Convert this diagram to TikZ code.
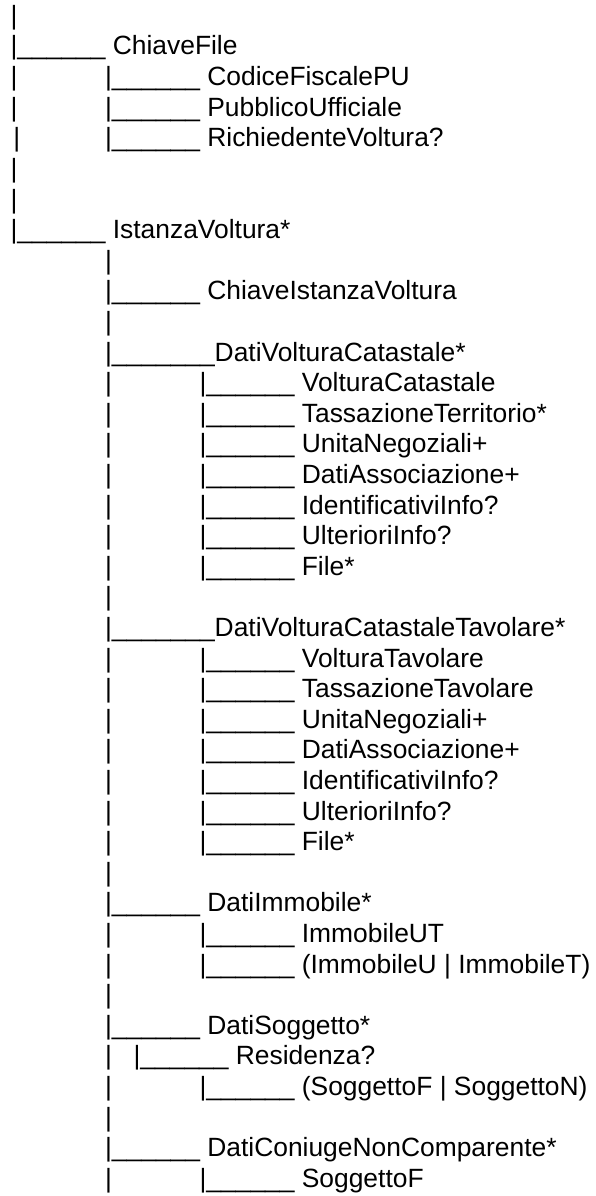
\documentclass[tikz,border=0pt]{standalone}
\usepackage{fontspec}
\setmainfont{Liberation Sans}
\begin{document}
\begin{tikzpicture}[x=1pt,y=-1pt,
  t/.style={anchor=base west,inner sep=0pt,outer sep=0pt,font=\fontsize{26.4}{30}\selectfont}]
\useasboundingbox (0,0) rectangle (596,1196);
\fill[white] (0,0) rectangle (596,1196);
% column x positions: A=10.6, B=105.1, C=199.6, D=133.6
\node[t] (r1a) at (10.6,24.4) {|};
\node[t] (r2a) at (10.6,55) {|\_\_\_\_\_\_ ChiaveFile};
\node[t] (r3a) at (10.6,85.6) {|};
\node[t] (r3b) at (105.1,85.6) {|\_\_\_\_\_\_ CodiceFiscalePU};
\node[t] (r4a) at (10.6,116.2) {|};
\node[t] (r4b) at (105.1,116.2) {|\_\_\_\_\_\_ PubblicoUfficiale};
\node[t] (r5a) at (13.3,146.8) {|};
\node[t] (r5b) at (105.1,146.8) {|\_\_\_\_\_\_ RichiedenteVoltura?};
\node[t] (r6a) at (10.6,177.4) {|};
\node[t] (r7a) at (10.6,208) {|};
\node[t] (r8a) at (10.6,238.6) {|\_\_\_\_\_\_ IstanzaVoltura*};
\node[t] (r9b) at (105.1,269.2) {|};
\node[t] (r10b) at (105.1,299.8) {|\_\_\_\_\_\_ ChiaveIstanzaVoltura};
\node[t] (r11b) at (105.1,330.4) {|};
\node[t] (r12b) at (105.1,361) {|\_\_\_\_\_\_\_DatiVolturaCatastale*};
\node[t] (r13b) at (105.1,391.6) {|};
\node[t] (r13c) at (199.6,391.6) {|\_\_\_\_\_\_ VolturaCatastale};
\node[t] (r14b) at (105.1,422.2) {|};
\node[t] (r14c) at (199.6,422.2) {|\_\_\_\_\_\_ TassazioneTerritorio*};
\node[t] (r15b) at (105.1,452.8) {|};
\node[t] (r15c) at (199.6,452.8) {|\_\_\_\_\_\_ UnitaNegoziali+};
\node[t] (r16b) at (105.1,483.4) {|};
\node[t] (r16c) at (199.6,483.4) {|\_\_\_\_\_\_ DatiAssociazione+};
\node[t] (r17b) at (105.1,514) {|};
\node[t] (r17c) at (199.6,514) {|\_\_\_\_\_\_ IdentificativiInfo?};
\node[t] (r18b) at (105.1,544.6) {|};
\node[t] (r18c) at (199.6,544.6) {|\_\_\_\_\_\_ UlterioriInfo?};
\node[t] (r19b) at (105.1,575.2) {|};
\node[t] (r19c) at (199.6,575.2) {|\_\_\_\_\_\_ File*};
\node[t] (r20b) at (105.1,605.8) {|};
\node[t] (r21b) at (105.1,636.4) {|\_\_\_\_\_\_\_DatiVolturaCatastaleTavolare*};
\node[t] (r22b) at (105.1,667) {|};
\node[t] (r22c) at (199.6,667) {|\_\_\_\_\_\_ VolturaTavolare};
\node[t] (r23b) at (105.1,697.6) {|};
\node[t] (r23c) at (199.6,697.6) {|\_\_\_\_\_\_ TassazioneTavolare};
\node[t] (r24b) at (105.1,728.2) {|};
\node[t] (r24c) at (199.6,728.2) {|\_\_\_\_\_\_ UnitaNegoziali+};
\node[t] (r25b) at (105.1,758.8) {|};
\node[t] (r25c) at (199.6,758.8) {|\_\_\_\_\_\_ DatiAssociazione+};
\node[t] (r26b) at (105.1,789.4) {|};
\node[t] (r26c) at (199.6,789.4) {|\_\_\_\_\_\_ IdentificativiInfo?};
\node[t] (r27b) at (105.1,820) {|};
\node[t] (r27c) at (199.6,820) {|\_\_\_\_\_\_ UlterioriInfo?};
\node[t] (r28b) at (105.1,850.6) {|};
\node[t] (r28c) at (199.6,850.6) {|\_\_\_\_\_\_ File*};
\node[t] (r29b) at (105.1,881.2) {|};
\node[t] (r30b) at (105.1,911.8) {|\_\_\_\_\_\_ DatiImmobile*};
\node[t] (r31b) at (105.1,942.4) {|};
\node[t] (r31c) at (199.6,942.4) {|\_\_\_\_\_\_ ImmobileUT};
\node[t] (r32b) at (105.1,973) {|};
\node[t] (r32c) at (199.6,973) {|\_\_\_\_\_\_ (ImmobileU | ImmobileT)};
\node[t] (r33b) at (105.1,1003.6) {|};
\node[t] (r34b) at (105.1,1034.2) {|\_\_\_\_\_\_ DatiSoggetto*};
\node[t] (r35b) at (105.1,1064.8) {|};
\node[t] (r35d) at (133.6,1064.8) {|\_\_\_\_\_\_ Residenza?};
\node[t] (r36b) at (105.1,1095.4) {|};
\node[t] (r36c) at (199.6,1095.4) {|\_\_\_\_\_\_ (SoggettoF | SoggettoN)};
\node[t] (r37b) at (105.1,1126) {|};
\node[t] (r38b) at (105.1,1156.6) {|\_\_\_\_\_\_ DatiConiugeNonComparente*};
\node[t] (r39b) at (105.1,1187.2) {|};
\node[t] (r39c) at (199.6,1187.2) {|\_\_\_\_\_\_ SoggettoF};
\end{tikzpicture}
\end{document}
